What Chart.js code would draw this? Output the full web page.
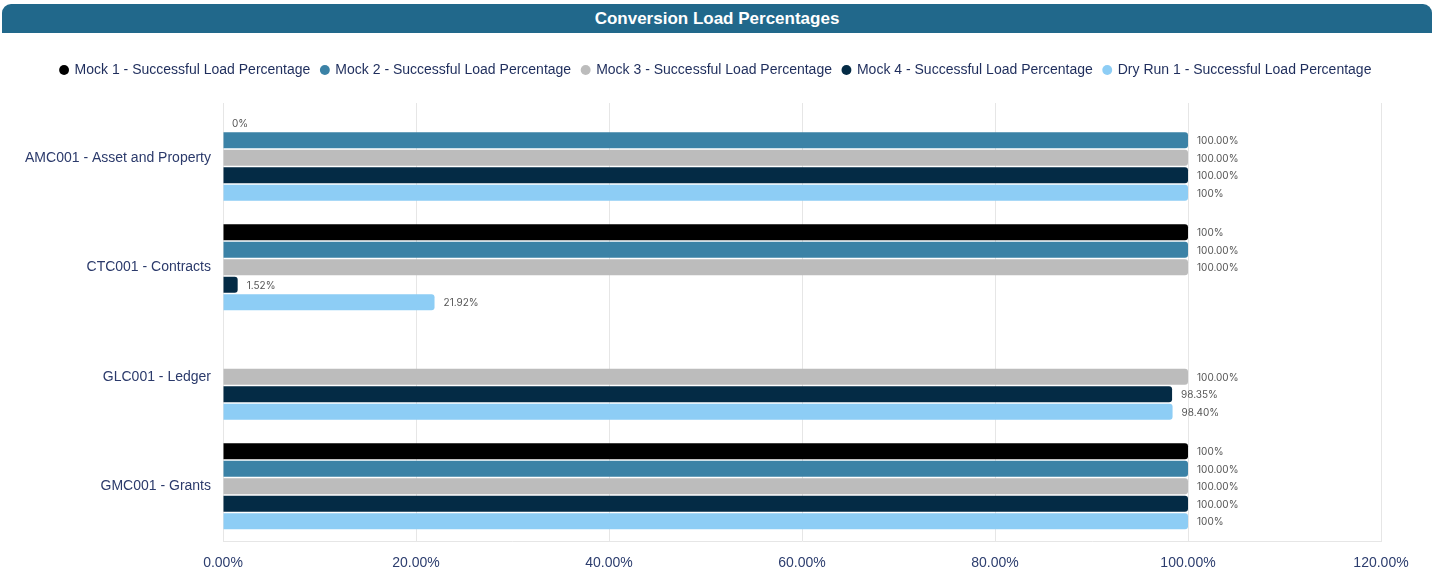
<!DOCTYPE html>
<html>
<head>
<meta charset="utf-8">
<script src="https://cdn.jsdelivr.net/npm/chart.js@4"></script>
<style>
    html, body { margin: 0; padding: 0; background: #fff; }
    #wrap { position: relative; width: 1432px; height: 572px; }
    #title-bar {
        position: absolute; left: 2px; top: 4px; width: 1430px; height: 29px;
        background: #21688b; border-radius: 9px 9px 0 0;
        color: #fff; font: bold 17px "Liberation Sans", Arial, sans-serif;
        text-align: center; line-height: 29px;
    }
    canvas { position: absolute; left: 0; top: 0; }
</style>
</head>
<body>
<div id="wrap">
    <canvas id="chart" width="1432" height="572"></canvas>
    <div id="title-bar">Conversion Load Percentages</div>
</div>
<script>
// Chart data
const categories = ['AMC001 - Asset and Property', 'CTC001 - Contracts', 'GLC001 - Ledger', 'GMC001 - Grants'];
const seriesNames = [
    'Mock 1 - Successful Load Percentage',
    'Mock 2 - Successful Load Percentage',
    'Mock 3 - Successful Load Percentage',
    'Mock 4 - Successful Load Percentage',
    'Dry Run 1 - Successful Load Percentage'
];
const mock1 = [0, 100, null, 100];
const mock2 = [100, 100, null, 100];
const mock3 = [100, 100, 100, 100];
const mock4 = [100, 1.52, 98.35, 100];
const dryRun1 = [100, 21.92, 98.40, 100];
const xTicks = [0, 20, 40, 60, 80, 100, 120];

const colors = ['#000000', '#3b82a6', '#bcbcbc', '#042b45', '#8dcdf5'];
// Mock 1 and Dry Run show whole numbers without decimals
const shortFormat = [true, false, false, false, true];

function fmtLabel(v, short) {
    if (short && Number.isInteger(v)) return v + '%';
    return v.toFixed(2) + '%';
}

const valueLabels = {
    id: 'valueLabels',
    afterDatasetsDraw(chart) {
        const ctx = chart.ctx;
        ctx.save();
        ctx.font = '10px Inter, "Noto Sans", sans-serif';
        ctx.fillStyle = '#555555';
        ctx.textAlign = 'left';
        ctx.textBaseline = 'middle';
        chart.data.datasets.forEach((ds, i) => {
            const meta = chart.getDatasetMeta(i);
            meta.data.forEach((bar, j) => {
                const v = ds.data[j];
                if (v === null || v === undefined) return;
                ctx.fillText(fmtLabel(v, shortFormat[i]), bar.x + 9, bar.y + 1);
            });
        });
        ctx.restore();
    }
};

// extra room under the legend, and center it on the whole canvas
const legendSpace = {
    id: 'legendSpace',
    beforeInit(chart) {
        const fit = chart.legend.fit;
        chart.legend.fit = function () {
            fit.bind(chart.legend)();
            this.height += 16;
        };
    },
    afterLayout(chart) {
        chart.legend.right = chart.width;
    }
};

const allSeries = [mock1, mock2, mock3, mock4, dryRun1];

new Chart(document.getElementById('chart').getContext('2d'), {
    type: 'bar',
    data: {
        labels: categories,
        datasets: allSeries.map((data, i) => ({
            label: seriesNames[i],
            data: data,
            backgroundColor: colors[i],
            borderRadius: 3,
            categoryPercentage: 0.8,
            barPercentage: 0.91
        }))
    },
    options: {
        indexAxis: 'y',
        responsive: false,
        animation: false,
        layout: { padding: { top: 52, right: 51, left: 0, bottom: 0 } },
        plugins: {
            legend: {
                position: 'top',
                labels: {
                    usePointStyle: true,
                    pointStyle: 'circle',
                    boxWidth: 7,
                    boxHeight: 7,
                    color: '#1e2d5c',
                    font: { family: '"Liberation Sans", Arial, sans-serif', size: 14 },
                    padding: 11
                }
            },
            tooltip: { enabled: false }
        },
        scales: {
            x: {
                min: 0,
                max: 120,
                afterBuildTicks: axis => { axis.ticks = xTicks.map(v => ({ value: v })); },
                ticks: {
                    color: '#2c3d6e',
                    font: { family: '"Liberation Sans", Arial, sans-serif', size: 14 },
                    padding: 14,
                    callback: v => v.toFixed(2) + '%'
                },
                grid: { color: '#e6e6e6', drawTicks: false },
                border: { color: '#e6e6e6' },
                afterFit: axis => { axis.height = 31; }
            },
            y: {
                ticks: {
                    color: '#2b3a6b',
                    font: { family: '"Liberation Sans", Arial, sans-serif', size: 14 },
                    padding: 12
                },
                grid: { display: false, drawTicks: false },
                border: { color: '#e6e6e6' },
                afterFit: axis => { axis.width = 223; }
            }
        }
    },
    plugins: [valueLabels, legendSpace]
});
</script>
</body>
</html>
